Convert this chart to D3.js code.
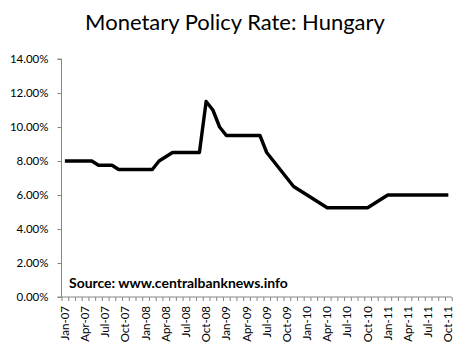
<!DOCTYPE html>
<html><head><meta charset="utf-8">
<script src="https://cdn.jsdelivr.net/npm/d3@7"></script>
<style>
html,body{margin:0;padding:0;background:#fff;}
svg{display:block;}
text{font-family:Lato,"Open Sans",sans-serif;fill:#000;}
</style></head>
<body><svg id="chart" width="466" height="343"></svg>
<script>
const months = ["Jan-07","Feb-07","Mar-07","Apr-07","May-07","Jun-07","Jul-07","Aug-07","Sep-07","Oct-07","Nov-07","Dec-07",
"Jan-08","Feb-08","Mar-08","Apr-08","May-08","Jun-08","Jul-08","Aug-08","Sep-08","Oct-08","Nov-08","Dec-08",
"Jan-09","Feb-09","Mar-09","Apr-09","May-09","Jun-09","Jul-09","Aug-09","Sep-09","Oct-09","Nov-09","Dec-09",
"Jan-10","Feb-10","Mar-10","Apr-10","May-10","Jun-10","Jul-10","Aug-10","Sep-10","Oct-10","Nov-10","Dec-10",
"Jan-11","Feb-11","Mar-11","Apr-11","May-11","Jun-11","Jul-11","Aug-11","Sep-11","Oct-11"];
const rates = [8.00,8.00,8.00,8.00,8.00,7.75,7.75,7.75,7.50,7.50,7.50,7.50,
7.50,7.50,8.00,8.25,8.50,8.50,8.50,8.50,8.50,11.50,11.00,10.00,
9.50,9.50,9.50,9.50,9.50,9.50,8.50,8.00,7.50,7.00,6.50,6.25,
6.00,5.75,5.50,5.25,5.25,5.25,5.25,5.25,5.25,5.25,5.50,5.75,
6.00,6.00,6.00,6.00,6.00,6.00,6.00,6.00,6.00,6.00];
const yTicks = [0,2,4,6,8,10,12,14];
const labelMonths = months.filter((m,i)=>i%3===0);
const title = "Monetary Policy Rate: Hungary";
const source = "Source: www.centralbanknews.info";

const svg = d3.select("#chart");
const L = 61.5, R = 451.7, T = 59, B = 297;
const x = d3.scaleBand().domain(months).range([L,R]).padding(0);
const y = d3.scaleLinear().domain([0,14]).range([B,T]);
const axisColor = "#868686";

// title
const tt = svg.append("text").attr("x",(85+385)/2).attr("y",30).attr("text-anchor","middle")
  .style("font-size","22px").text(title);
const tw = tt.node().getComputedTextLength();
tt.style("font-size",(22*300/tw)+"px");

// y axis
const ya = svg.append("g").attr("transform",`translate(${L},0)`)
  .call(d3.axisLeft(y).tickValues(yTicks).tickSize(4).tickPadding(9).tickFormat(d=>d.toFixed(2)+"%"));
ya.select(".domain").attr("stroke",axisColor).attr("d",`M-4,${T}H0V${B}H-4`);
ya.selectAll(".tick line").attr("stroke",axisColor);
ya.selectAll(".tick text").style("font-size","11.5px").style("font-family","Lato,sans-serif").attr("fill","#000");

// x axis
const xi = d3.scaleLinear().domain([0,months.length]).range([L,R]);
const xa = svg.append("g").attr("transform",`translate(0,${B})`)
  .call(d3.axisBottom(xi).tickValues(d3.range(0,months.length+1)).tickSize(4).tickFormat(""));
xa.select(".domain").attr("stroke",axisColor).attr("d",`M${L},0H${R}`);
xa.selectAll(".tick line").attr("stroke",axisColor);

svg.append("g").selectAll("text").data(labelMonths).join("text")
  .attr("transform",d=>`translate(${x(d)+x.bandwidth()/2+4},${B+9}) rotate(-90)`)
  .attr("text-anchor","end")
  .style("font-size","11.5px")
  .text(d=>d);

// line
const line = d3.line().x((d,i)=>x(months[i])+x.bandwidth()/2).y(d=>y(d));
svg.append("path").datum(rates).attr("d",line).attr("fill","none")
  .attr("stroke","#000").attr("stroke-width",3.4).attr("stroke-linejoin","round");

// source
const st = svg.append("text").attr("x",69).attr("y",288).style("font-size","13px").style("font-weight","bold").text(source);
const sw = st.node().getComputedTextLength();
st.style("font-size",(13*219/sw)+"px");
</script></body></html>
